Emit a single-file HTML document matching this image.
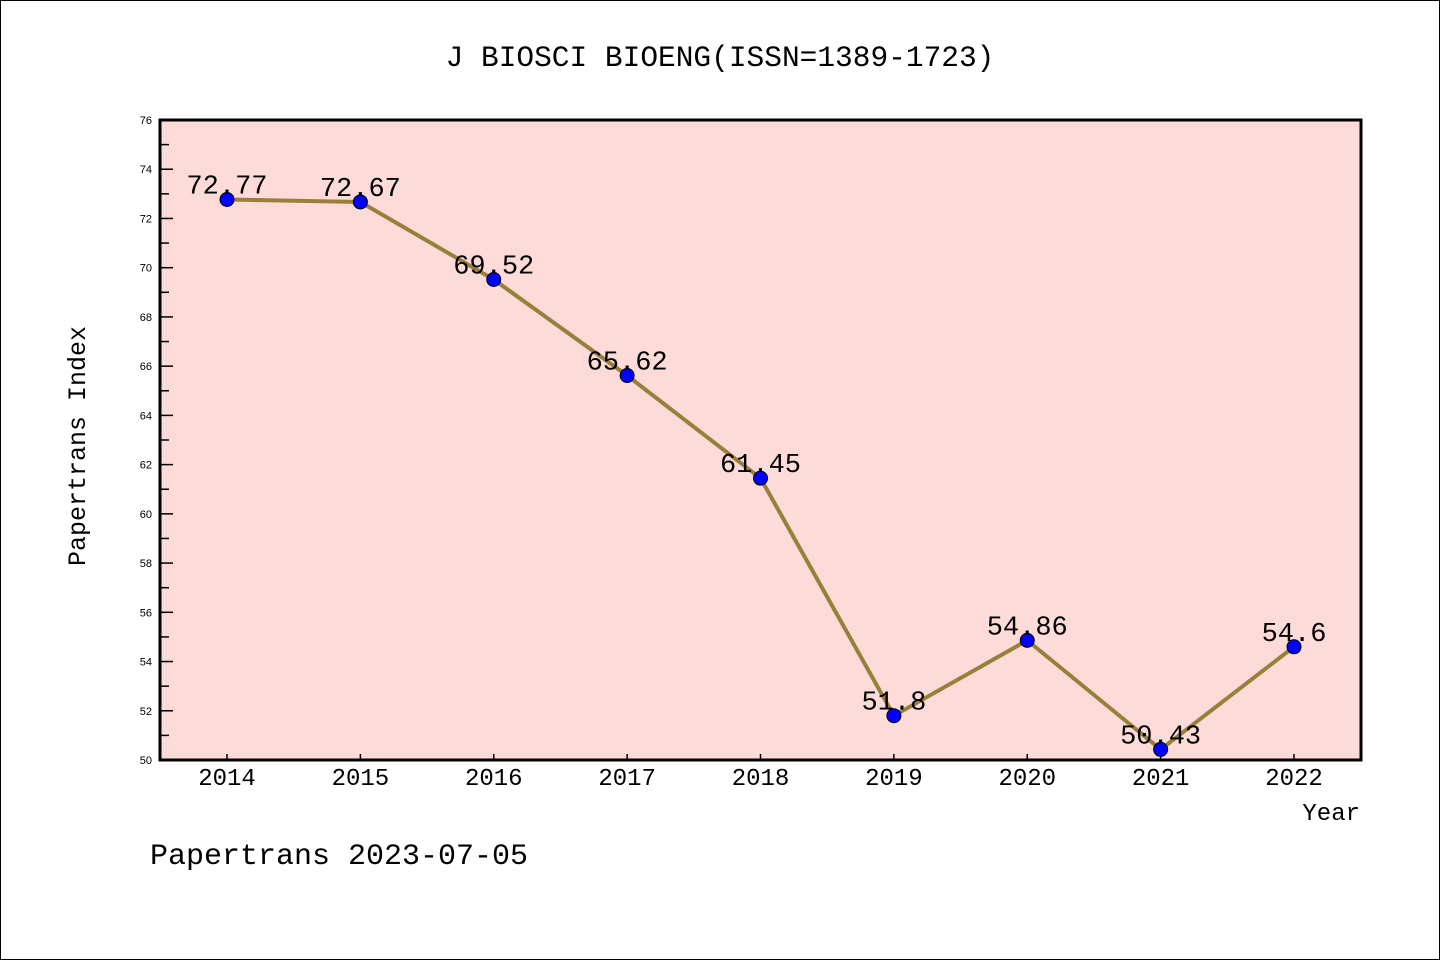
<!DOCTYPE html>
<html><head><meta charset="utf-8"><style>
body{margin:0;background:#fff}
svg{display:block;font-family:"Liberation Mono","WenQuanYi Zen Hei",monospace}
</style></head><body>
<svg width="1440" height="960" xmlns="http://www.w3.org/2000/svg">
<rect x="0.5" y="0.5" width="1439" height="959" fill="#fff" stroke="#000"/>
<text x="720" y="66" text-anchor="middle" font-size="29.5">J BIOSCI BIOENG(ISSN=1389-1723)</text>
<rect x="160" y="120" width="1201" height="640" fill="#fddbd8"/>
<g id="axes"></g>
<g id="marks"></g>
<rect x="160" y="120" width="1201" height="640" fill="none" stroke="#000" stroke-width="3"/>
<text x="85" y="446" text-anchor="middle" font-size="25" transform="rotate(-90 85 446)">Papertrans Index</text>
<text x="1360" y="820" text-anchor="end" font-size="24">Year</text>
<text x="150" y="864" font-size="30">Papertrans 2023-07-05</text>
</svg>
<script>
const years=["2014","2015","2016","2017","2018","2019","2020","2021","2022"];
const values=[72.77,72.67,69.52,65.62,61.45,51.8,54.86,50.43,54.6];
const valueLabels=["72.77","72.67","69.52","65.62","61.45","51.8","54.86","50.43","54.6"];
const yTicks=[50,52,54,56,58,60,62,64,66,68,70,72,74,76];
const NS="http://www.w3.org/2000/svg";
const yMin=50,yMax=76,yTop=120,yBot=760,xFirst=227,xLast=1294;
const ys=v=>yBot-(v-yMin)/(yMax-yMin)*(yBot-yTop);
const xs=i=>xFirst+i*(xLast-xFirst)/(years.length-1);
function mk(t,a,p){const e=document.createElementNS(NS,t);for(const k in a)e.setAttribute(k,a[k]);p.appendChild(e);return e;}
const ax=document.getElementById('axes'),mg=document.getElementById('marks');
yTicks.forEach((v,i)=>{
 const y=ys(v);
 const t=mk('line',{x1:160,x2:173,y1:y,y2:y,stroke:'#000','stroke-width':1.5},ax);
 
 
 const l=mk('text',{x:152,y:y+4,'text-anchor':'end','font-size':11,'font-family':'"Liberation Sans",sans-serif'},ax);l.textContent=v;
 
 
 if(i<yTicks.length-1){const ym=ys(v+1);
  const m=mk('line',{x1:160,x2:169,y1:ym,y2:ym,stroke:'#000','stroke-width':1.5},ax);
  
  }
});
years.forEach((yr,i)=>{
 const x=xs(i);
 const t=mk('line',{x1:x,x2:x,y1:760,y2:754,stroke:'#000','stroke-width':1.5},ax);
 
 
 const l=mk('text',{x:x,y:785,'text-anchor':'middle','font-size':24},ax);l.textContent=yr;
 
 
});
const pl=mk('polyline',{points:values.map((v,i)=>xs(i)+','+ys(v)).join(' '),fill:'none',stroke:'#9a7f3a','stroke-width':4},mg);


values.forEach((v,i)=>{
 const c=mk('circle',{cx:xs(i),cy:ys(v),r:7,fill:'#0000ff',stroke:'#000','stroke-width':1},mg);
 
 
 const l=mk('text',{x:xs(i),y:ys(v)-6,'text-anchor':'middle','font-size':27},mg);l.textContent=valueLabels[i];
 
 
});
</script>
</body></html>
